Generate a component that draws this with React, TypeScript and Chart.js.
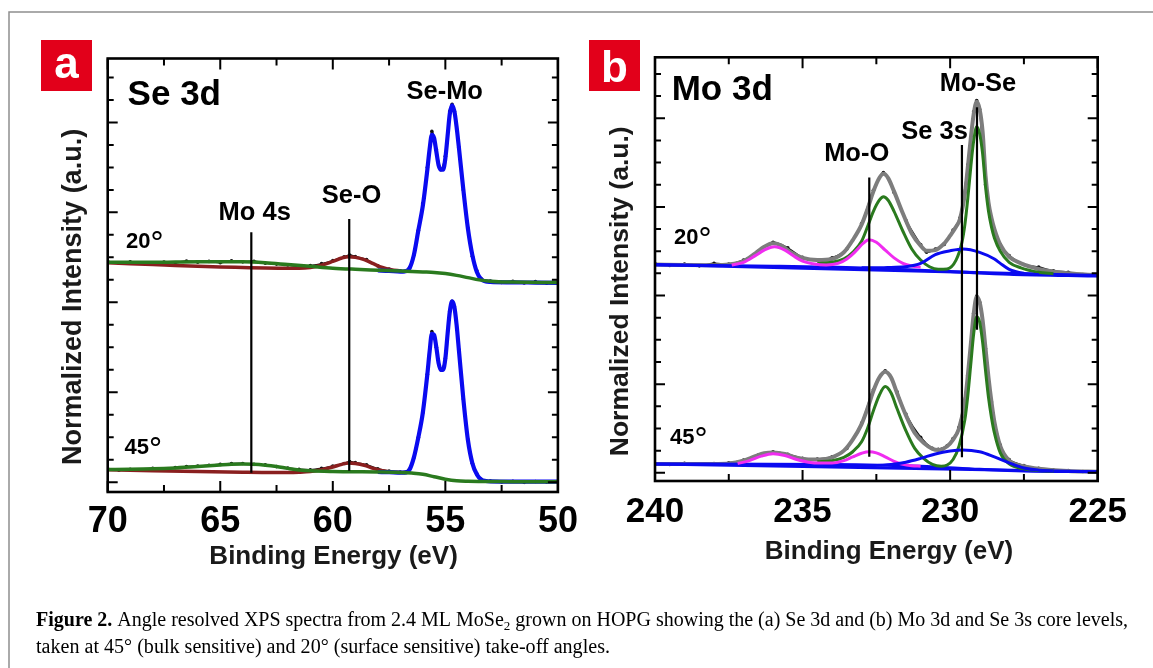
import React, { useEffect, useRef } from 'react';
import { Chart, registerables } from 'chart.js';
Chart.register(...registerables);

type P = [number, number];

// ---------- axis ticks ----------
const seXMajor = [70, 65, 60, 55, 50];
const seXMinor = [67.5, 62.5, 57.5, 52.5];
const seXLabels = ['70', '65', '60', '55', '50'];
const moXMajor = [240, 235, 230, 225];
const moXMinor = [237.5, 232.5, 227.5];
const moXLabels = ['240', '235', '230', '225'];
const yTicks = [0, 1, 2, 3, 4, 5, 6, 7, 8, 9, 10, 11, 12, 13, 14, 15, 16, 17, 18];
const yMajor = [0, 4, 8, 12, 16];

// ---------- panel a : Se 3d ----------
const se20Data: P[] = [
  [70, 9.82], [69.5, 9.74], [69, 9.8], [68.5, 9.76], [68, 9.72], [67.5, 9.79], [67, 9.76], [66.5, 9.84],
  [66, 9.78], [65.5, 9.82], [65, 9.76], [64.5, 9.85], [64, 9.8], [63.5, 9.83], [63, 9.74], [62.5, 9.7],
  [62, 9.66], [61.5, 9.6], [61, 9.64], [60.5, 9.72], [60, 9.86], [59.5, 10.02], [59.25, 10.1], [59, 10.04],
  [58.5, 9.9], [58, 9.62], [57.5, 9.48], [57, 9.4], [56.6, 9.52], [56.4, 10.1], [56.2, 11.2], [56, 12.4],
  [55.8, 14.0], [55.6, 15.6], [55.4, 14.8], [55.2, 13.9], [55, 14.5], [54.8, 16.5], [54.7, 16.8], [54.6, 16.5],
  [54.4, 14.9], [54.2, 13.0], [54, 11.3], [53.8, 10.05], [53.6, 9.4], [53.4, 9.05], [53, 8.95], [52.5, 8.88],
  [52, 8.94], [51.5, 8.86], [51, 8.92], [50.5, 8.85], [50, 8.9],
];
const se20Blue: P[] = [
  [58, 9.42], [57.5, 9.4], [57, 9.37], [56.8, 9.38], [56.6, 9.5], [56.4, 10.1], [56.2, 11.2], [56, 12.3],
  [55.8, 13.9], [55.7, 14.8], [55.6, 15.45], [55.5, 15.3], [55.4, 14.7], [55.3, 14.1], [55.2, 13.9],
  [55.1, 13.9], [55, 14.4], [54.9, 15.4], [54.8, 16.4], [54.7, 16.76], [54.6, 16.5], [54.5, 15.8],
  [54.4, 14.9], [54.2, 13.0], [54, 11.3], [53.8, 10.1], [53.6, 9.35], [53.4, 9.02], [53.2, 8.93],
  [53, 8.91], [52, 8.89], [51, 8.88], [50, 8.87],
];
const se20Green: P[] = [
  [70, 9.78], [69, 9.78], [68, 9.78], [67, 9.79], [66, 9.8], [65, 9.8], [64, 9.8], [63, 9.76], [62, 9.68],
  [61, 9.6], [60, 9.52], [59, 9.47], [58, 9.43], [57, 9.39], [56.5, 9.37], [56, 9.35], [55.5, 9.33],
  [55, 9.28], [54.5, 9.2], [54, 9.1], [53.5, 9.0], [53, 8.94], [52.5, 8.91], [52, 8.9], [50, 8.88],
];
const se20Red: P[] = [
  [70, 9.76], [69, 9.72], [68, 9.68], [67, 9.64], [66, 9.6], [65, 9.57], [64, 9.55], [63, 9.53], [62, 9.52],
  [61.5, 9.52], [61, 9.55], [60.5, 9.65], [60, 9.82], [59.6, 9.97], [59.3, 10.03], [59, 10.0], [58.6, 9.9],
  [58.2, 9.72], [57.8, 9.55], [57.4, 9.45], [57, 9.4],
];
const se45Data: P[] = [
  [70, 0.6], [69.5, 0.54], [69, 0.58], [68.5, 0.55], [68, 0.62], [67.5, 0.6], [67, 0.66], [66.5, 0.7],
  [66, 0.72], [65.5, 0.76], [65, 0.8], [64.5, 0.83], [64, 0.84], [63.5, 0.8], [63, 0.78], [62.5, 0.7],
  [62, 0.63], [61.5, 0.58], [61, 0.56], [60.5, 0.62], [60, 0.72], [59.5, 0.84], [59.25, 0.92], [59, 0.88],
  [58.5, 0.78], [58, 0.6], [57.5, 0.5], [57, 0.46], [56.6, 0.58], [56.4, 1.1], [56.2, 2.0], [56, 3.1],
  [55.8, 4.8], [55.6, 6.7], [55.4, 6.0], [55.2, 5.0], [55, 5.5], [54.8, 7.6], [54.7, 8.05], [54.6, 7.8],
  [54.4, 5.9], [54.2, 3.7], [54, 1.9], [53.8, 0.85], [53.6, 0.38], [53.4, 0.14], [53, 0.06], [52.5, 0.02],
  [52, 0.05], [51.5, 0.0], [51, 0.04], [50.5, 0.01], [50, 0.05],
];
const se45Blue: P[] = [
  [58, 0.46], [57.5, 0.45], [57, 0.43], [56.8, 0.43], [56.6, 0.55], [56.4, 1.1], [56.2, 2.0], [56, 3.1],
  [55.8, 4.8], [55.7, 5.8], [55.6, 6.6], [55.5, 6.55], [55.4, 6.0], [55.3, 5.3], [55.2, 5.0], [55.1, 5.0],
  [55, 5.5], [54.9, 6.6], [54.8, 7.6], [54.7, 8.04], [54.6, 7.8], [54.5, 7.0], [54.4, 5.9], [54.2, 3.7],
  [54, 1.9], [53.8, 0.85], [53.6, 0.35], [53.4, 0.12], [53.2, 0.06], [53, 0.04], [52, 0.03], [51, 0.03],
  [50, 0.03],
];
const se45Green: P[] = [
  [70, 0.57], [69, 0.58], [68, 0.6], [67, 0.64], [66, 0.7], [65, 0.77], [64.5, 0.8], [64, 0.81],
  [63.5, 0.8], [63, 0.76], [62.5, 0.7], [62, 0.62], [61.5, 0.55], [61, 0.51], [60, 0.48], [59, 0.47],
  [58, 0.46], [57, 0.44], [56.5, 0.41], [56, 0.36], [55.5, 0.25], [55, 0.14], [54.5, 0.07], [54, 0.05],
  [53, 0.04], [52, 0.03], [50, 0.03],
];
const se45Red: P[] = [
  [70, 0.56], [68, 0.52], [66, 0.48], [64, 0.45], [63, 0.44], [62, 0.44], [61.5, 0.45], [61, 0.48],
  [60.5, 0.56], [60, 0.68], [59.6, 0.8], [59.3, 0.86], [59, 0.84], [58.6, 0.76], [58.2, 0.62], [57.8, 0.52],
  [57.4, 0.46], [57, 0.44],
];
// marker lines: [energy, bottom, top]
const seMarkers: [number, number, number][] = [[63.62, 0.43, 11.12], [59.27, 0.52, 11.71]];

// ---------- panel b : Mo 3d ----------
const mo20Data: P[] = [
  [240, 9.44], [239.5, 9.36], [239, 9.42], [238.5, 9.34], [238, 9.45], [237.5, 9.42], [237, 9.6], [236.5, 10.0],
  [236, 10.4], [235.5, 10.15], [235, 9.72], [234.5, 9.58], [234, 9.7], [233.5, 10.1], [233, 11.25],
  [232.6, 12.75], [232.26, 13.55], [231.9, 12.65], [231.5, 11.4], [231, 10.3], [230.8, 9.95], [230.5, 10.1],
  [230.2, 10.3], [229.9, 10.95], [229.67, 11.5], [229.4, 13.9], [229.2, 16.3], [229.1, 16.8], [229, 16.4],
  [228.8, 13.0], [228.6, 11.3], [228.3, 10.3], [228, 9.8], [227.5, 9.4], [227, 9.28], [226.5, 9.12],
  [226, 9.05], [225.5, 8.95], [225, 8.95],
];
const mo20Gray: P[] = [
  [240, 9.4], [239, 9.38], [238, 9.37], [237.5, 9.4], [237, 9.55], [236.6, 9.9], [236.3, 10.2], [236, 10.36],
  [235.7, 10.25], [235.4, 9.95], [235, 9.7], [234.5, 9.6], [234, 9.65], [233.6, 9.95], [233.3, 10.5],
  [233, 11.2], [232.8, 11.9], [232.6, 12.7], [232.4, 13.3], [232.26, 13.49], [232.1, 13.3], [231.9, 12.7],
  [231.6, 11.7], [231.3, 10.8], [231, 10.25], [230.8, 10.02], [230.5, 10.05], [230.2, 10.35], [230, 10.7],
  [229.8, 11.1], [229.67, 11.44], [229.5, 12.6], [229.4, 13.8], [229.3, 15.1], [229.2, 16.2], [229.1, 16.74],
  [229, 16.4], [228.9, 15.4], [228.8, 13.4], [228.7, 12.2], [228.6, 11.5], [228.5, 11.0], [228.3, 10.3],
  [228, 9.75], [227.6, 9.45], [227, 9.2], [226, 9.0], [225, 8.92],
];
const mo20Green: P[] = [
  [234.5, 9.45], [234, 9.5], [233.6, 9.65], [233.3, 9.95], [233, 10.45], [232.8, 11.1], [232.6, 11.8],
  [232.4, 12.3], [232.26, 12.46], [232.1, 12.3], [231.9, 11.8], [231.6, 10.9], [231.3, 10.1], [231, 9.6],
  [230.7, 9.3], [230.4, 9.18], [230.1, 9.2], [229.8, 9.6], [229.6, 10.4], [229.5, 11.2], [229.4, 12.4],
  [229.3, 13.8], [229.2, 15.0], [229.1, 15.62], [229, 15.3], [228.9, 14.4], [228.8, 12.9], [228.7, 11.8],
  [228.6, 11.1], [228.5, 10.6], [228.3, 10.0], [228, 9.5], [227.6, 9.25], [227, 9.05], [226.5, 8.98],
];
const mo20Blue: P[] = [
  [233, 9.25], [232.5, 9.25], [232, 9.27], [231.5, 9.3], [231, 9.45], [230.5, 9.85], [230, 10.02],
  [229.56, 10.1], [229, 9.95], [228.5, 9.65], [228.3, 9.45], [228, 9.18], [227.5, 9.0], [227, 8.95],
];
const mo20Magenta: P[] = [
  [237.4, 9.38], [237, 9.5], [236.6, 9.8], [236.3, 10.05], [235.95, 10.2], [235.6, 10.05], [235.3, 9.78],
  [235, 9.55], [234.6, 9.42], [234.2, 9.38], [233.8, 9.45], [233.5, 9.65], [233.2, 10.0], [232.95, 10.35],
  [232.75, 10.52], [232.5, 10.4], [232.2, 10.05], [231.9, 9.7], [231.6, 9.45], [231.3, 9.33], [231, 9.28],
];
const mo20Base1: P[] = [[240, 9.4], [225, 8.9]];
const mo20Base2: P[] = [[240, 9.38], [236, 9.32], [233, 9.24], [230, 9.08], [228, 8.96], [226, 8.9], [225, 8.88]];

const mo45Data: P[] = [
  [240, 0.42], [239.5, 0.38], [239, 0.43], [238.5, 0.39], [238, 0.42], [237.5, 0.45], [237, 0.58], [236.5, 0.8],
  [236, 0.95], [235.5, 0.84], [235, 0.66], [234.5, 0.62], [234, 0.72], [233.5, 1.1], [233, 2.25], [232.6, 3.75],
  [232.2, 4.6], [231.8, 3.65], [231.5, 2.65], [231, 1.6], [230.6, 1.1], [230.4, 1.06], [230.1, 1.22],
  [229.9, 1.55], [229.7, 2.05], [229.4, 4.4], [229.2, 7.2], [229.1, 7.98], [229, 7.7], [228.8, 5.6],
  [228.6, 3.2], [228.3, 1.25], [228, 0.6], [227.5, 0.33], [227, 0.2], [226.5, 0.12], [226, 0.1],
  [225.5, 0.06], [225, 0.07],
];
const mo45Gray: P[] = [
  [240, 0.4], [239, 0.4], [238, 0.4], [237.5, 0.42], [237, 0.55], [236.6, 0.75], [236.3, 0.88], [236, 0.92],
  [235.6, 0.85], [235.2, 0.68], [234.8, 0.6], [234.4, 0.6], [234, 0.7], [233.6, 1.0], [233.3, 1.5],
  [233, 2.2], [232.8, 2.9], [232.6, 3.7], [232.4, 4.3], [232.2, 4.56], [232, 4.3], [231.8, 3.6], [231.5, 2.6],
  [231.2, 1.8], [230.9, 1.35], [230.6, 1.08], [230.4, 1.03], [230.1, 1.2], [229.9, 1.5], [229.7, 2.0],
  [229.5, 3.2], [229.4, 4.4], [229.3, 5.8], [229.2, 7.2], [229.1, 7.95], [229, 7.7], [228.9, 6.9],
  [228.8, 5.6], [228.7, 4.3], [228.6, 3.2], [228.5, 2.3], [228.3, 1.2], [228, 0.55], [227.5, 0.3],
  [227, 0.18], [226, 0.08], [225, 0.05],
];
const mo45Green: P[] = [
  [234.5, 0.5], [234, 0.55], [233.6, 0.7], [233.3, 0.95], [233, 1.4], [232.8, 2.0], [232.6, 2.8],
  [232.4, 3.5], [232.2, 3.89], [232, 3.6], [231.8, 2.9], [231.5, 1.9], [231.2, 1.1], [230.9, 0.65],
  [230.6, 0.38], [230.3, 0.3], [230.1, 0.35], [229.9, 0.6], [229.7, 1.2], [229.5, 2.4], [229.4, 3.5],
  [229.3, 4.9], [229.2, 6.3], [229.1, 7.04], [229, 6.8], [228.9, 5.9], [228.8, 4.6], [228.7, 3.4],
  [228.6, 2.5], [228.5, 1.8], [228.3, 0.9], [228, 0.4], [227.5, 0.18], [227, 0.1], [226.5, 0.07],
];
const mo45Blue: P[] = [
  [233, 0.3], [232, 0.38], [231.5, 0.48], [231, 0.65], [230.5, 0.85], [230, 0.98], [229.58, 1.03],
  [229, 0.95], [228.5, 0.72], [228, 0.45], [227.5, 0.22], [227, 0.12], [226.5, 0.08],
];
const mo45Magenta: P[] = [
  [237.2, 0.42], [236.8, 0.55], [236.4, 0.75], [236, 0.86], [235.6, 0.78], [235.2, 0.6], [234.8, 0.48],
  [234.4, 0.44], [234, 0.44], [233.6, 0.55], [233.3, 0.72], [233, 0.88], [232.75, 0.95], [232.5, 0.9],
  [232.2, 0.72], [231.9, 0.52], [231.6, 0.38], [231.3, 0.32], [231, 0.3],
];
const mo45Base1: P[] = [[240, 0.4], [225, 0.05]];
const mo45Base2: P[] = [[240, 0.4], [234, 0.38], [231, 0.3], [229, 0.16], [227.5, 0.08], [225, 0.05]];
const moMarkers: [number, number, number][] = [[232.74, 0.72, 13.33], [229.6, 0.7, 14.79], [229.09, 6.45, 16.5]];

// ---------- styling ----------
const BLUE = '#0a0af0';
const GREEN = '#2a7a1e';
const RED = '#8a1f1f';
const MAGENTA = '#f02cf0';
const GRAY = '#7d7d7d';
const SANS = '"Liberation Sans", Arial, sans-serif';
const SERIF = '"Liberation Serif", "Times New Roman", serif';

const fit = (data: P[], color: string, width: number, order: number) => ({
  data: data.map(([x, y]) => ({ x, y })),
  borderColor: color,
  backgroundColor: color,
  borderWidth: width,
  pointRadius: 0,
  fill: false,
  cubicInterpolationMode: 'monotone' as const,
  order,
});
const dots = (data: P[], order: number) => ({
  data: data.map(([x, y]) => ({ x, y })),
  borderColor: '#111',
  backgroundColor: '#111',
  borderWidth: 1.6,
  pointRadius: 1.8,
  pointBorderWidth: 0,
  fill: false,
  tension: 0.3,
  order,
});
const markers = (m: [number, number, number][]) =>
  m.map(([x, y0, y1]) => ({
    data: [{ x, y: y0 }, { x, y: y1 }],
    borderColor: '#000',
    backgroundColor: '#000',
    borderWidth: 2.2,
    pointRadius: 0,
    fill: false,
    order: -1,
  }));

type Lbl = { t: string; x: number; y: number; size: number; align: CanvasTextAlign };
type Deg = { t: string; x: number; y: number };
type PanelCfg = {
  xMajor: number[]; xMinor: number[]; xLabels: string[];
  tickSize: number; tickBaseline: number;
  xTitleX: number; xTitleY: number; xTitleSize: number;
  yTitleX: number; yTitleY: number; yTitleSize: number;
  box: { x: number; y: number; w: number; h: number; letter: string; baseline: number };
  labels: Lbl[]; degs: Deg[]; caption?: boolean;
};

const drawCaption = (ctx: CanvasRenderingContext2D) => {
  const size = 20;
  const segs1: { t: string; bold?: boolean; sub?: boolean }[] = [
    { t: 'Figure 2.', bold: true },
    { t: ' Angle resolved XPS spectra from 2.4 ML MoSe' },
    { t: '2', sub: true },
    { t: ' grown on HOPG showing the (a) Se 3d and (b) Mo 3d and Se 3s core levels,' },
  ];
  const segs2 = [{ t: 'taken at 45° (bulk sensitive) and 20° (surface sensitive) take-off angles.' }];
  const fontOf = (s: { bold?: boolean; sub?: boolean }) =>
    `${s.bold ? 'bold ' : ''}${s.sub ? 13 : size}px ${SERIF}`;
  const drawLine = (segs: { t: string; bold?: boolean; sub?: boolean }[], x0: number, base: number, target: number) => {
    let w = 0;
    for (const s of segs) { ctx.font = fontOf(s); w += ctx.measureText(s.t).width; }
    const sx = target / w;
    ctx.save();
    ctx.translate(x0, base);
    ctx.scale(sx, 1);
    let x = 0;
    for (const s of segs) {
      ctx.font = fontOf(s);
      ctx.fillText(s.t, x, s.sub ? 4 : 0);
      x += ctx.measureText(s.t).width;
    }
    ctx.restore();
  };
  ctx.fillStyle = '#000';
  ctx.textAlign = 'left';
  ctx.textBaseline = 'alphabetic';
  drawLine(segs1, 36, 626, 1092);
  drawLine(segs2, 36, 653, 574);
};

const decoPlugin = (cfg: PanelCfg) => ({
  id: 'panelDeco',
  afterDraw(chart: any) {
    const ctx: CanvasRenderingContext2D = chart.ctx;
    const ca = chart.chartArea;
    const xs = chart.scales.x;
    const ys = chart.scales.y;
    ctx.save();
    // ticks
    ctx.strokeStyle = '#000';
    ctx.lineWidth = 2;
    ctx.beginPath();
    const xt = (v: number, L: number) => {
      const p = xs.getPixelForValue(v);
      ctx.moveTo(p, ca.bottom); ctx.lineTo(p, ca.bottom - L);
      ctx.moveTo(p, ca.top); ctx.lineTo(p, ca.top + L);
    };
    cfg.xMajor.forEach((v) => xt(v, 11));
    cfg.xMinor.forEach((v) => xt(v, 7));
    yTicks.forEach((v) => {
      const p = ys.getPixelForValue(v);
      const L = yMajor.includes(v) ? 10 : 6;
      ctx.moveTo(ca.left, p); ctx.lineTo(ca.left + L, p);
      ctx.moveTo(ca.right, p); ctx.lineTo(ca.right - L, p);
    });
    ctx.stroke();
    ctx.lineWidth = 2.6;
    ctx.strokeRect(ca.left, ca.top, ca.right - ca.left, ca.bottom - ca.top);

    ctx.fillStyle = '#000';
    ctx.textBaseline = 'alphabetic';
    // tick labels
    ctx.font = `bold ${cfg.tickSize}px ${SANS}`;
    ctx.textAlign = 'center';
    cfg.xMajor.forEach((v, i) => ctx.fillText(cfg.xLabels[i], xs.getPixelForValue(v), cfg.tickBaseline));
    // titles
    ctx.font = `bold ${cfg.xTitleSize}px ${SANS}`;
    ctx.fillStyle = '#1a1a1a';
    ctx.fillText('Binding Energy (eV)', cfg.xTitleX, cfg.xTitleY);
    ctx.save();
    ctx.translate(cfg.yTitleX, cfg.yTitleY);
    ctx.rotate(-Math.PI / 2);
    ctx.font = `bold ${cfg.yTitleSize}px ${SANS}`;
    ctx.fillText('Normalized Intensity (a.u.)', 0, 0);
    ctx.restore();
    // labels
    ctx.fillStyle = '#000';
    cfg.labels.forEach((l) => {
      ctx.font = `bold ${l.size}px ${SANS}`;
      ctx.textAlign = l.align;
      ctx.fillText(l.t, l.x, l.y);
    });
    cfg.degs.forEach((d) => {
      ctx.textAlign = 'left';
      ctx.font = `bold 22px ${SANS}`;
      ctx.fillText(d.t, d.x, d.y);
      const w = ctx.measureText(d.t).width;
      ctx.font = `30px "DejaVu Sans", sans-serif`;
      ctx.fillText('°', d.x + w - 1, d.y + 5);
    });
    // red box
    const b = cfg.box;
    ctx.fillStyle = '#e2001a';
    ctx.fillRect(b.x, b.y, b.w, b.h);
    ctx.fillStyle = '#fff';
    ctx.textAlign = 'center';
    ctx.font = `bold 44px ${SANS}`;
    ctx.fillText(b.letter, b.x + b.w / 2, b.baseline);

    if (cfg.caption) {
      // outer frame
      ctx.strokeStyle = '#8f8f8f';
      ctx.lineWidth = 1.5;
      ctx.beginPath();
      ctx.moveTo(9, 700); ctx.lineTo(9, 12); ctx.lineTo(1160, 12);
      ctx.stroke();
      drawCaption(ctx);
    }
    ctx.restore();
  },
});

const panelA: PanelCfg = {
  xMajor: seXMajor, xMinor: seXMinor, xLabels: seXLabels,
  tickSize: 36, tickBaseline: 531.7,
  xTitleX: 333.6, xTitleY: 564, xTitleSize: 26,
  yTitleX: 80.5, yTitleY: 296.9, yTitleSize: 27,
  box: { x: 41, y: 40, w: 51, h: 51, letter: 'a', baseline: 77.5 },
  labels: [
    { t: 'Se 3d', x: 127.6, y: 104.5, size: 35, align: 'left' },
    { t: 'Se-Mo', x: 444.7, y: 99, size: 25.5, align: 'center' },
    { t: 'Se-O', x: 351.5, y: 202.7, size: 25.5, align: 'center' },
    { t: 'Mo 4s', x: 254.7, y: 220, size: 25.5, align: 'center' },
  ],
  degs: [{ t: '20', x: 126, y: 248 }, { t: '45', x: 124.5, y: 453.5 }],
  caption: true,
};
const panelB: PanelCfg = {
  xMajor: moXMajor, xMinor: moXMinor, xLabels: moXLabels,
  tickSize: 35, tickBaseline: 521.7,
  xTitleX: 889, xTitleY: 558.6, xTitleSize: 26,
  yTitleX: 628, yTitleY: 291.3, yTitleSize: 26.5,
  box: { x: 589, y: 40, w: 51, h: 51, letter: 'b', baseline: 81.5 },
  labels: [
    { t: 'Mo 3d', x: 671.7, y: 100, size: 35, align: 'left' },
    { t: 'Mo-Se', x: 978, y: 90.7, size: 25.5, align: 'center' },
    { t: 'Se 3s', x: 934.5, y: 139, size: 25.5, align: 'center' },
    { t: 'Mo-O', x: 856.7, y: 160.7, size: 25.5, align: 'center' },
  ],
  degs: [{ t: '20', x: 674, y: 244 }, { t: '45', x: 670, y: 444 }],
};

const W = 1153;
const H = 668;

function makeChart(canvas: HTMLCanvasElement, datasets: any[], xMin: number, xMax: number,
  yMin: number, yMax: number, padding: any, cfg: PanelCfg) {
  return new Chart(canvas, {
    type: 'line',
    data: { datasets },
    options: {
      animation: false,
      responsive: false,
      devicePixelRatio: 1,
      events: [],
      layout: { padding },
      plugins: { legend: { display: false }, tooltip: { enabled: false } },
      scales: {
        x: { type: 'linear', min: xMin, max: xMax, reverse: true, display: false },
        y: { type: 'linear', min: yMin, max: yMax, display: false },
      },
    },
    plugins: [decoPlugin(cfg)],
  } as any);
}

export default function App() {
  const refA = useRef<HTMLCanvasElement>(null);
  const refB = useRef<HTMLCanvasElement>(null);
  useEffect(() => {
    const a = makeChart(refA.current!, [
      ...markers(seMarkers),
      fit(se20Green, GREEN, 3.5, 1), fit(se45Green, GREEN, 3.5, 1),
      fit(se20Blue, BLUE, 4.2, 2), fit(se45Blue, BLUE, 4.2, 2),
      fit(se20Red, RED, 3.5, 3), fit(se45Red, RED, 3.5, 3),
      dots(se20Data, 5), dots(se45Data, 5),
    ], 50, 70, -0.43, 18.84, { left: 107.7, top: 58.5, right: W - 557.9, bottom: H - 492 }, panelA);
    const b = makeChart(refB.current!, [
      ...markers(moMarkers),
      fit(mo20Blue, BLUE, 3, 1), fit(mo45Blue, BLUE, 3, 1),
      fit(mo20Magenta, MAGENTA, 3, 1), fit(mo45Magenta, MAGENTA, 3, 1),
      fit(mo20Green, GREEN, 3, 2), fit(mo45Green, GREEN, 3, 2),
      fit(mo20Base1, BLUE, 3, 3), fit(mo20Base2, BLUE, 3, 3),
      fit(mo45Base1, BLUE, 3, 3), fit(mo45Base2, BLUE, 3, 3),
      fit(mo20Gray, GRAY, 4, 4), fit(mo45Gray, GRAY, 4, 4),
      dots(mo20Data, 5), dots(mo45Data, 5),
    ], 225, 240, -0.37, 18.75, { left: 655, top: 57.3, right: W - 1097.7, bottom: H - 481 }, panelB);
    return () => { a.destroy(); b.destroy(); };
  }, []);
  const st: React.CSSProperties = { position: 'absolute', left: 0, top: 0, width: W, height: H };
  return (
    <div style={{ position: 'absolute', left: 0, top: 0, width: W, height: H, background: '#fff' }}>
      <canvas ref={refA} width={W} height={H} style={st} />
      <canvas ref={refB} width={W} height={H} style={st} />
    </div>
  );
}
